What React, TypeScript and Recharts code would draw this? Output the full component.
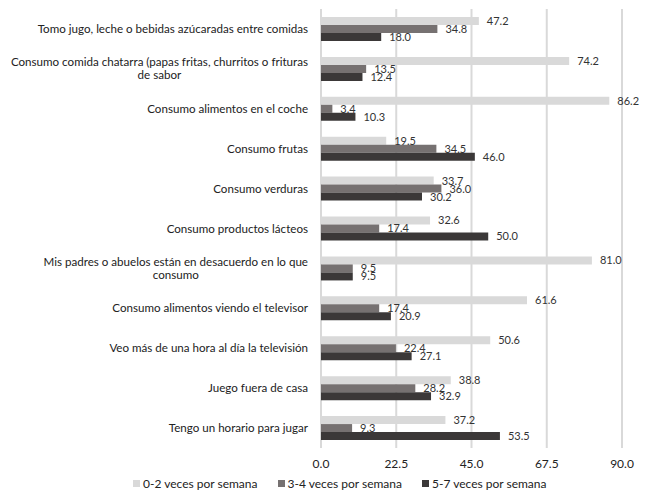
import React from "react";
import { BarChart, Bar, XAxis, YAxis, CartesianGrid, Legend, LabelList } from "recharts";

const categories = [
  "Tomo jugo, leche o bebidas azúcaradas entre comidas",
  "Consumo comida chatarra (papas fritas, churritos o frituras\nde sabor",
  "Consumo alimentos en el coche",
  "Consumo frutas",
  "Consumo verduras",
  "Consumo productos lácteos",
  "Mis padres o abuelos están en desacuerdo en lo que\nconsumo",
  "Consumo alimentos viendo el televisor",
  "Veo más de una hora al día la televisión",
  "Juego fuera de casa",
  "Tengo un horario para jugar",
];

const low = [47.2, 74.2, 86.2, 19.5, 33.7, 32.6, 81.0, 61.6, 50.6, 38.8, 37.2];
const mid = [34.8, 13.5, 3.4, 34.5, 36.0, 17.4, 9.5, 17.4, 22.4, 28.2, 9.3];
const high = [18.0, 12.4, 10.3, 46.0, 30.2, 50.0, 9.5, 20.9, 27.1, 32.9, 53.5];

const xTicks = [0, 22.5, 45, 67.5, 90];

const seriesNames = ["0-2 veces por semana", "3-4 veces por semana", "5-7 veces por semana"];
const COLORS = ["#d9d9d9", "#767171", "#3b3838"];

const data = categories.map((name, i) => ({
  name,
  low: low[i],
  mid: mid[i],
  high: high[i],
}));

const FONT = "Lato, sans-serif";
const CAT_SIZE = 11.6;

let ctx: CanvasRenderingContext2D | null = null;
const measure = (s: string) => {
  if (!ctx) ctx = document.createElement("canvas").getContext("2d");
  if (!ctx) return s.length * 5.5;
  ctx.font = `${CAT_SIZE}px ${FONT}`;
  return ctx.measureText(s).width;
};

const CategoryTick = (props: any) => {
  const { x, y, payload } = props;
  const lines: string[] = String(payload.value).split("\n");
  if (lines.length === 1) {
    return (
      <text x={x} y={y} dy="0.35em" textAnchor="end" fontSize={CAT_SIZE} fill="#222" fontFamily={FONT}>
        {lines[0]}
      </text>
    );
  }
  // wrapped labels: lines centred on the widest one, which ends at the axis
  const w = Math.max(...lines.map(measure));
  const cx = x - w / 2;
  const lh = 13;
  const top = y - ((lines.length - 1) * lh) / 2;
  return (
    <text textAnchor="middle" fontSize={CAT_SIZE} fill="#222" fontFamily={FONT}>
      {lines.map((l, i) => (
        <tspan key={i} x={cx} y={top + i * lh} dy="0.35em">
          {l}
        </tspan>
      ))}
    </text>
  );
};

const LegendContent = () => (
  <div
    style={{
      display: "flex",
      paddingLeft: 133,
      fontFamily: FONT,
      fontSize: 12,
      color: "#222",
      height: 20,
      alignItems: "center",
      position: "relative",
      top: 3,
    }}
  >
    {seriesNames.map((n, i) => (
      <div key={n} style={{ display: "flex", alignItems: "center", marginRight: 20 }}>
        <span style={{ width: 7, height: 7, background: COLORS[i], marginRight: 3, display: "inline-block" }} />
        <span>{n}</span>
      </div>
    ))}
  </div>
);

export default function App() {
  return (
    <div style={{ position: "absolute", left: 0, top: 0, width: 645, height: 491, background: "#fff" }}>
      <BarChart
        width={645}
        height={491}
        data={data}
        layout="vertical"
        margin={{ top: 9, right: 23, bottom: 1, left: 0 }}
        barGap={0}
        barCategoryGap="20%"
      >
        <CartesianGrid horizontal={false} stroke="#d9d9d9" strokeWidth={2} />
        <XAxis
          type="number"
          domain={[0, 90]}
          ticks={xTicks}
          tickFormatter={(v: number) => v.toFixed(1)}
          axisLine={false}
          tickLine={false}
          tickMargin={5}
          height={22}
          tick={{ fontSize: 12, fill: "#222", fontFamily: FONT }}
          interval={0}
        />
        <YAxis
          type="category"
          dataKey="name"
          width={321}
          axisLine={false}
          tickLine={false}
          tickSize={0}
          tickMargin={13}
          tick={<CategoryTick />}
          interval={0}
        />
        <Legend verticalAlign="bottom" content={<LegendContent />} />
        {(["low", "mid", "high"] as const).map((k, i) => (
          <Bar key={k} dataKey={k} name={seriesNames[i]} fill={COLORS[i]} isAnimationActive={false}>
            <LabelList
              dataKey={k}
              position="right"
              offset={8}
              formatter={(v: any) => Number(v).toFixed(1)}
              style={{ fontSize: 11, fill: "#333", fontFamily: FONT }}
            />
          </Bar>
        ))}
      </BarChart>
    </div>
  );
}
